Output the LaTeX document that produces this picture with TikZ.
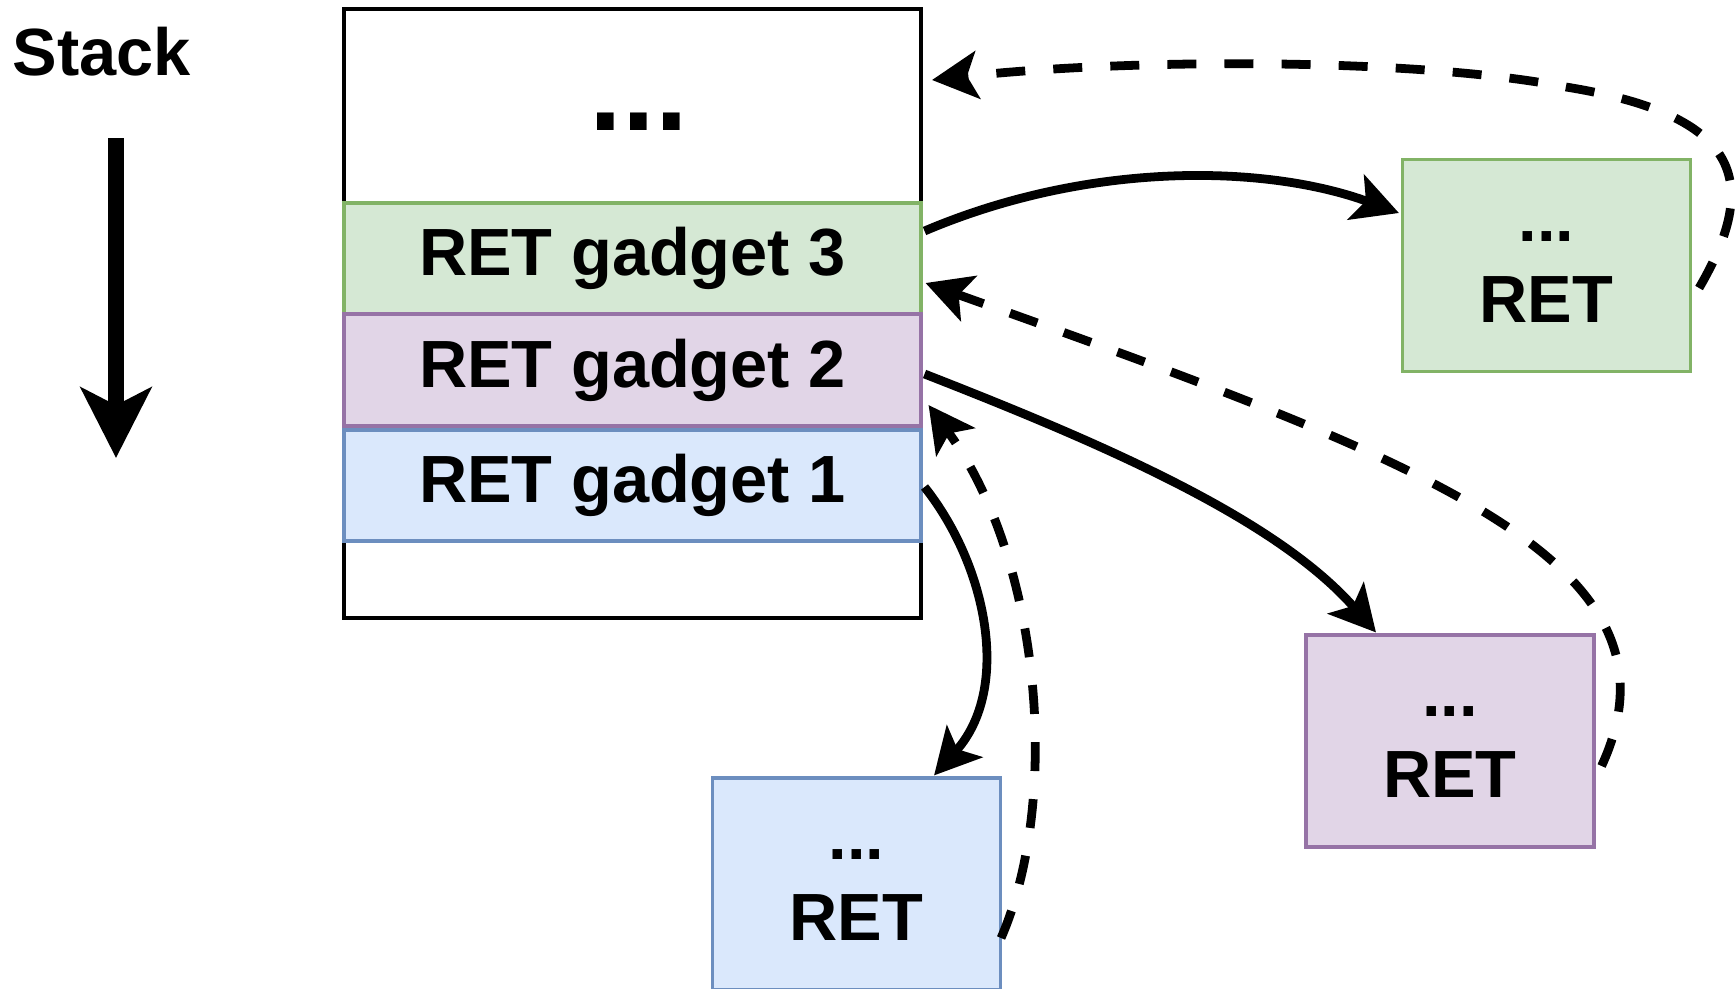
\documentclass[tikz,border=0pt]{standalone}
\usepackage{fontspec}
\setmainfont{Liberation Sans}
\usetikzlibrary{arrows.meta,calc}

\definecolor{gfill}{HTML}{D5E8D4}
\definecolor{gline}{HTML}{82B366}
\definecolor{pfill}{HTML}{E1D5E7}
\definecolor{pline}{HTML}{9673A6}
\definecolor{bfill}{HTML}{DAE8FC}
\definecolor{bline}{HTML}{6C8EBF}

\newcommand{\gadgetfont}{\fontsize{38pt}{46pt}\selectfont\bfseries}

\tikzset{
  cell/.style={draw, line width=1.8pt, minimum width=11.54cm, minimum height=2.22cm, font=\gadgetfont},
  codebox/.style={draw, line width=1.8pt, minimum width=5.76cm, minimum height=4.24cm, align=center, font=\gadgetfont},
  jump/.style={line width=5pt, -{Stealth[length=26pt,width=27pt,inset=6pt]}},
  retback/.style={jump, dash pattern=on 16.5pt off 16pt},
}

\begin{document}
\begin{tikzpicture}[x=0.02cm, y=-0.02cm]
		\useasboundingbox (0,0) rectangle (1736,988);

		% Stack direction
		\node[anchor=base, font=\fontsize{38pt}{44pt}\selectfont\bfseries] (stacklbl) at (102,75) {Stack};
		\coordinate (growtop) at (116,138);
		\coordinate (growbot) at (116,458);
		\draw[line width=9pt, -{Stealth[length=40pt,width=40pt,inset=10pt]}] (growtop) -- (growbot);

		% Stack frame
		\node[draw, line width=1.8pt, minimum width=11.54cm, minimum height=12.18cm] (stack) at (632.5,313.5) {};
		\node[anchor=base, font=\fontsize{67pt}{80pt}\selectfont\bfseries] (topdots) at (639,130) {...};
		\node[cell, fill=gfill, draw=gline] (g3) at (632.5,258.5) {RET gadget 3};
		\node[cell, fill=pfill, draw=pline, minimum height=2.24cm] (g2) at (632.5,370) {RET gadget 2};
		\node[cell, fill=bfill, draw=bline] (g1) at (632.5,485.5) {RET gadget 1};
		\coordinate (back3) at (932,80);

		% Gadget code
		\node[codebox, fill=gfill, draw=gline] (c3) at (1546.5,265.5) {\strut...\\\strut RET};
		\node[codebox, fill=pfill, draw=pline] (c2) at (1450,741) {\strut...\\\strut RET};
		\node[codebox, fill=bfill, draw=bline] (c1) at (856.5,884) {\strut...\\\strut RET};

		% Jumps into the gadgets
		\draw[jump] ($(g3.east)+(2,-27.5)$) .. controls +(167,-71) and +(-131,-48) .. ($(c3.west)+(-2,-52.5)$);
		\draw[jump] ($(g2.east)+(2,4)$) .. controls +(182,71) and +(-99,-113) .. ($(c2.north)+(-74,-1)$);
		\draw[jump] ($(g1.east)+(2,1.5)$) .. controls +(62,78) and +(78,-87) .. ($(c1.north)+(77.5,-1)$);

		% Returns to the next stack entry
		\draw[retback] ($(c3.east)+(7,22.5)$) .. controls +(63,-108) and +(174,28) .. (1566,87)
			.. controls +(-148,-29) and +(200,-22) .. (back3);
		\draw[retback] ($(c2.east)+(6,25)$) .. controls +(95,-206) and +(496,177) .. ($(g3.east)+(3,24.5)$);
		\draw[retback] ($(c1.east)+(-1,54)$) .. controls +(60,-138) and +(113,155) .. ($(g2.east)+(6,35)$);
	\end{tikzpicture}
\end{document}
